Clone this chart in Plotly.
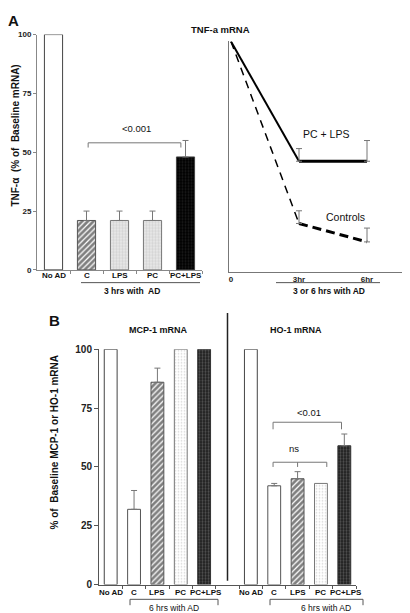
import plotly.graph_objects as go

W, H = 410, 613
FONT = "Liberation Sans, Arial, sans-serif"

# ---------------- data ----------------
a_categories = ["No AD", "C", "LPS", "PC", "PC+LPS"]
a_tnf = [100, 21, 21, 21, 48]
a_tnf_err = [0, 4, 4, 4, 7]

line_times = [0, 3, 6]
line_time_labels = ["0", "3hr", "6hr"]
line_pclps = [100, 48, 48]
line_pclps_err = [5.5, 9]        # at 3hr, 6hr
line_controls = [100, 21, 13]
line_controls_err = [5.5, 6]     # at 3hr, 6hr

b_categories = ["No AD", "C", "LPS", "PC", "PC+LPS"]
b_mcp1 = [100, 32, 86, 100, 100]
b_mcp1_err = [0, 8, 6, 0, 0]
b_ho1 = [100, 42, 45, 43, 59]
b_ho1_err = [0, 1, 3, 0, 5]
b_ho1_offset = 6   # HO-1 group positioned after a gap on the shared axis

# ---------------- geometry helpers ----------------
def dom_x(p0, p1):
    return [p0 / W, p1 / W]

def dom_y(pb, pt):
    return [1 - pb / H, 1 - pt / H]

def px(x):
    return x / W

def py(y):
    return 1 - y / H

def lin(p0, p1, v0, v1):
    return lambda v: p0 + (v - v0) * (p1 - p0) / (v1 - v0)

AX_A = dict(xp=(29, 194), xr=(-0.5, 4.5), yp=(261, 21), yr=(0, 100))
AX_L = dict(xp=(221, 410), xr=(-0.088, 8.25), yp=(263, 28), yr=(0, 100))
AX_B = dict(xp=(91, 348), xr=(-0.5, 10.5), yp=(582, 342), yr=(0, 100))

def mapx(ax):
    f = lin(ax["xp"][0], ax["xp"][1], ax["xr"][0], ax["xr"][1])
    return lambda v: px(f(v))

def mapy(ax):
    f = lin(ax["yp"][0], ax["yp"][1], ax["yr"][0], ax["yr"][1])
    return lambda v: py(f(v))

ax_a_x, ax_a_y = mapx(AX_A), mapy(AX_A)
ax_b_x, ax_b_y = mapx(AX_B), mapy(AX_B)

# ---------------- styles ----------------
def st_white(line="#444"):
    return dict(color="white", line=dict(color=line, width=1))

def st_hatch():
    return dict(color="white", line=dict(color="#555", width=1),
                pattern=dict(shape="/", fgcolor="#000", bgcolor="white", size=4, solidity=0.7))

def st_lightcheck():
    return dict(color="#e8e8e8", line=dict(color="#777", width=1),
                pattern=dict(shape=".", fgcolor="#b8b8b8", bgcolor="#ececec", size=3, solidity=0.5))

def st_darkcheck():
    return dict(color="#000", line=dict(color="#444", width=1),
                pattern=dict(shape=".", fgcolor="#3a3a3a", bgcolor="#000", size=3, solidity=0.4))

def st_dots():
    return dict(color="white", line=dict(color="#777", width=1),
                pattern=dict(shape=".", fgcolor="#b0b0b0", bgcolor="white", size=3, solidity=0.25))

def st_midcheck():
    return dict(color="#333", line=dict(color="#333", width=1),
                pattern=dict(shape=".", fgcolor="#8a8a8a", bgcolor="#1a1a1a", size=3, solidity=0.45))

a_styles = [st_white(), st_hatch(), st_lightcheck(), st_lightcheck(), st_darkcheck()]
b_styles = [st_white(), st_white("#555"), st_hatch(), st_dots(), st_midcheck()]

ERR = dict(type="data", symmetric=False, color="#777", thickness=1, width=3)

fig = go.Figure()

# ---------- Panel A bars ----------
for i, (cat, v, e) in enumerate(zip(a_categories, a_tnf, a_tnf_err)):
    kw = {}
    if e > 0:
        kw["error_y"] = dict(ERR, array=[e], arrayminus=[0])
    fig.add_trace(go.Bar(x=[i], y=[v], width=0.55, marker=a_styles[i],
                         xaxis="x", yaxis="y", showlegend=False, **kw))

# ---------- Panel A lines ----------
fig.add_trace(go.Scatter(x=line_times[:2], y=line_pclps[:2], mode="lines",
                         line=dict(color="black", width=2), xaxis="x2", yaxis="y2", showlegend=False))
fig.add_trace(go.Scatter(x=line_times[1:], y=line_pclps[1:], mode="lines",
                         line=dict(color="black", width=3), xaxis="x2", yaxis="y2", showlegend=False))
fig.add_trace(go.Scatter(x=line_times[:2], y=line_controls[:2], mode="lines",
                         line=dict(color="black", width=1.5, dash="8px,6px"), xaxis="x2", yaxis="y2", showlegend=False))
fig.add_trace(go.Scatter(x=line_times[1:], y=line_controls[1:], mode="lines",
                         line=dict(color="black", width=3, dash="9px,5px"), xaxis="x2", yaxis="y2", showlegend=False))
fig.add_trace(go.Scatter(x=line_times[1:], y=line_pclps[1:], mode="markers",
                         marker=dict(size=1, color="rgba(0,0,0,0)"),
                         error_y=dict(ERR, array=line_pclps_err, arrayminus=[0, 0]),
                         xaxis="x2", yaxis="y2", showlegend=False))
fig.add_trace(go.Scatter(x=line_times[1:], y=line_controls[1:], mode="markers",
                         marker=dict(size=1, color="rgba(0,0,0,0)"),
                         error_y=dict(ERR, array=line_controls_err, arrayminus=[0, 0]),
                         xaxis="x2", yaxis="y2", showlegend=False))

# ---------- Panel B bars ----------
for i, (v, e) in enumerate(zip(b_mcp1, b_mcp1_err)):
    kw = {}
    if e > 0:
        kw["error_y"] = dict(ERR, array=[e], arrayminus=[0])
    fig.add_trace(go.Bar(x=[i], y=[v], width=0.55, marker=b_styles[i],
                         xaxis="x3", yaxis="y3", showlegend=False, **kw))
for i, (v, e) in enumerate(zip(b_ho1, b_ho1_err)):
    kw = {}
    if e > 0:
        kw["error_y"] = dict(ERR, array=[e], arrayminus=[0])
    fig.add_trace(go.Bar(x=[i + b_ho1_offset], y=[v], width=0.55, marker=b_styles[i],
                         xaxis="x3", yaxis="y3", showlegend=False, **kw))

# ---------------- axes ----------------
TICKF8 = dict(family=FONT, size=8, color="#222", weight="bold")
TICKF10 = dict(family=FONT, size=10, color="#222", weight="bold")

fig.update_layout(
    width=W, height=H, margin=dict(l=0, r=0, t=0, b=0),
    paper_bgcolor="white", plot_bgcolor="white", barmode="overlay",
    font=dict(family=FONT, color="#111"),
    xaxis=dict(domain=dom_x(*AX_A["xp"]), range=list(AX_A["xr"]), anchor="y",
               showline=True, linecolor="#888", linewidth=1, showgrid=False, zeroline=False,
               tickvals=[0.5, 1.5, 2.5, 3.5, 4.5], ticks="outside", ticklen=3, tickcolor="#888",
               showticklabels=False),
    yaxis=dict(domain=dom_y(*AX_A["yp"]), range=list(AX_A["yr"]), anchor="x",
               showline=True, linecolor="#888", linewidth=1, showgrid=False, zeroline=False,
               tickvals=[0, 25, 50, 75, 100], ticks="outside", ticklen=3, tickcolor="#888",
               tickfont=TICKF8),
    xaxis2=dict(domain=dom_x(*AX_L["xp"]), range=list(AX_L["xr"]), anchor="y2",
                showline=True, linecolor="#777", linewidth=1, showgrid=False, zeroline=False,
                tickvals=line_times, ticktext=line_time_labels, ticks="", tickfont=TICKF8),
    yaxis2=dict(domain=dom_y(*AX_L["yp"]), range=list(AX_L["yr"]), anchor="x2",
                showline=True, linecolor="#777", linewidth=1, showgrid=False, zeroline=False,
                showticklabels=False, ticks=""),
    xaxis3=dict(domain=dom_x(*AX_B["xp"]), range=list(AX_B["xr"]), anchor="y3",
                showline=True, linecolor="#555", linewidth=1, showgrid=False, zeroline=False,
                tickvals=[0.5, 1.5, 2.5, 3.5, 4.5, 5.5, 6.5, 7.5, 8.5, 9.5, 10.5],
                ticks="outside", ticklen=3, tickcolor="#555", showticklabels=False),
    yaxis3=dict(domain=dom_y(*AX_B["yp"]), range=list(AX_B["yr"]), anchor="x3",
                showline=True, linecolor="#555", linewidth=1, showgrid=False, zeroline=False,
                tickvals=[0, 25, 50, 75, 100], ticks="outside", ticklen=4, tickcolor="#555",
                tickfont=TICKF10),
)

# ---------------- annotations ----------------
anns = []

def text(t, x, y, size=9, bold=False, color="#111", angle=0, xanchor="center"):
    anns.append(dict(text=("<b>%s</b>" % t) if bold else t, x=x, y=y, xref="paper", yref="paper",
                     showarrow=False, textangle=angle, xanchor=xanchor, yanchor="middle",
                     font=dict(family=FONT, size=size, color=color)))

text("A", px(5), py(7), size=15, bold=True)
text("B", px(46), py(313), size=15, bold=True)
text("TNF-a mRNA", px(212), py(16), size=9.5, bold=True)
text("TNF-α  (% of  Baseline mRNA)", px(8), py(124), size=10, bold=True, angle=-90)
text("% of  Baseline MCP-1 or HO-1 mRNA", px(46), py(437), size=10, bold=True, angle=-90)

for i, c in enumerate(a_categories):
    text(c, ax_a_x(i), py(267), size=8, bold=True)
text("3 hrs with  AD", px(124), py(283), size=8.5, bold=True)
text("<0.001", px(128), py(117), size=9.5)

text("PC + LPS", px(318), py(122), size=10.5)
text("Controls", px(337), py(207), size=10.5)
text("3 or 6 hrs with AD", px(321), py(283), size=8.5, bold=True)

text("MCP-1 mRNA", px(150), py(322), size=9, bold=True)
text("HO-1 mRNA", px(288), py(322), size=9, bold=True)
for i, c in enumerate(b_categories):
    text(c, ax_b_x(i) + (px(2) if i == 4 else 0), py(590), size=8, bold=True)
    text(c, ax_b_x(i + b_ho1_offset) + (px(2) if i == 4 else 0), py(590), size=8, bold=True)
text("6 hrs with AD", px(166), py(606), size=8.5)
text("6 hrs with AD", px(318), py(606), size=8.5)
text("<0.01", px(301), py(406), size=9.5)
text("ns", px(286), py(443), size=9.5)

fig.update_layout(annotations=anns)

# ---------------- decorative lines ----------------
shapes = []

def seg(x0, y0, x1, y1, color="#777", width=1):
    shapes.append(dict(type="line", xref="paper", yref="paper", x0=x0, y0=y0, x1=x1, y1=y1,
                       line=dict(color=color, width=width)))

bx0, bx1 = ax_a_x(1.05), ax_a_x(3.86)
seg(bx0, ax_a_y(54), bx1, ax_a_y(54))
seg(bx0, ax_a_y(54), bx0, ax_a_y(52))
seg(bx1, ax_a_y(54), bx1, ax_a_y(52))
seg(px(73), py(274), px(192), py(274), color="#555")
seg(px(268), py(274), px(372), py(274), color="#555")

hx0, hx1, hxm, hx2 = ax_b_x(7 - 0.05), ax_b_x(10 - 0.12), ax_b_x(8), ax_b_x(9.25)
seg(hx0, ax_b_y(69), hx1, ax_b_y(69))
seg(hx0, ax_b_y(69), hx0, ax_b_y(66))
seg(hx1, ax_b_y(69), hx1, ax_b_y(66))
seg(hx0, ax_b_y(52), hx2, ax_b_y(52))
seg(hx0, ax_b_y(52), hx0, ax_b_y(50))
seg(hxm, ax_b_y(52), hxm, ax_b_y(50))
seg(hx2, ax_b_y(52), hx2, ax_b_y(50))

seg(ax_b_x(5), py(305), ax_b_x(5), py(578), color="#222", width=1.5)

for x0, x1 in [(px(122), px(210)), (px(262), px(355))]:
    seg(x0, py(597), x1, py(597), color="#555")
    seg(x0, py(597), x0, py(603), color="#555")
    seg(x1, py(597), x1, py(603), color="#555")

fig.update_layout(shapes=shapes)

fig.write_html("out.html")
